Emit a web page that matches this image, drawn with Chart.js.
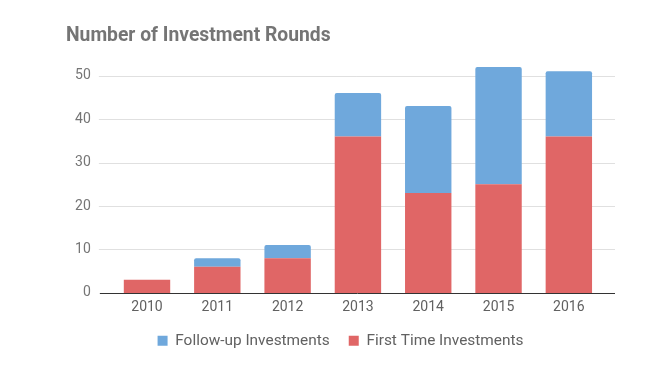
<!DOCTYPE html>
<html>
<head>
<meta charset="utf-8">
<script src="https://cdn.jsdelivr.net/npm/chart.js@4.4.1/dist/chart.umd.min.js"></script>
<style>
  html, body { margin: 0; padding: 0; background: #fff; }
  #wrap { width: 647px; height: 367px; position: relative; }
</style>
</head>
<body>
<div id="wrap"><canvas id="c" width="647" height="367"></canvas></div>
<script>
const categories = ['2010', '2011', '2012', '2013', '2014', '2015', '2016'];
const firstTimeInvestments = [3, 6, 8, 36, 23, 25, 36];
const followUpInvestments = [0, 2, 3, 10, 20, 27, 15];
const yTicks = [0, 10, 20, 30, 40, 50];

const FONT = 'Roboto, "Noto Sans", sans-serif';

// Horizontal gridlines that run a little past the plot area, as in the reference
const gridPlugin = {
  id: 'extGrid',
  beforeDatasetsDraw(chart) {
    const { ctx, chartArea, scales } = chart;
    const y = scales.y;
    const l = chartArea.left - 13, r = chartArea.right + 11;
    ctx.save();
    ctx.lineWidth = 1;
    ctx.strokeStyle = '#e0e0e0';
    yTicks.forEach(v => {
      if (v === 0) return;
      const py = Math.round(y.getPixelForValue(v)) + 0.5;
      ctx.beginPath(); ctx.moveTo(l, py); ctx.lineTo(r, py); ctx.stroke();
    });
    ctx.restore();
  },
  afterDatasetsDraw(chart) {
    const { ctx, chartArea, scales } = chart;
    const y = scales.y;
    const l = chartArea.left - 12, r = chartArea.right + 11;
    const py = Math.round(y.getPixelForValue(0)) + 0.5;
    ctx.save();
    ctx.lineWidth = 1;
    ctx.strokeStyle = '#333333';
    ctx.beginPath(); ctx.moveTo(l, py); ctx.lineTo(r, py); ctx.stroke();
    ctx.restore();
  }
};

new Chart(document.getElementById('c'), {
  type: 'bar',
  data: {
    labels: categories,
    datasets: [
      {
        label: 'First Time Investments',
        data: firstTimeInvestments,
        backgroundColor: '#e06666',
        borderWidth: 0,
        borderSkipped: false,
        borderRadius: 0
      },
      {
        label: 'Follow-up Investments',
        data: followUpInvestments,
        backgroundColor: '#6fa8dc',
        borderWidth: 0,
        borderSkipped: false,
        borderRadius: { topLeft: 2, topRight: 2, bottomLeft: 0, bottomRight: 0 }
      }
    ]
  },
  options: {
    responsive: false,
    animation: false,
    devicePixelRatio: 1,
    layout: { padding: { left: 66, right: 32, top: 0, bottom: 8.5 } },
    datasets: { bar: { barPercentage: 0.66, categoryPercentage: 1 } },
    plugins: {
      title: {
        display: true,
        text: 'Number of Investment Rounds',
        align: 'start',
        color: '#757575',
        font: { family: FONT, size: 19.3, weight: 'bold' },
        padding: { top: 25, bottom: 5.8 }
      },
      legend: {
        position: 'bottom',
        reverse: true,
        labels: {
          color: '#616161',
          font: { family: FONT, size: 15.4 },
          boxWidth: 10,
          boxHeight: 10,
          padding: 19
        }
      },
      tooltip: { enabled: false }
    },
    scales: {
      x: {
        stacked: true,
        grid: { display: false, drawTicks: false },
        border: { display: false },
        ticks: { color: '#616161', font: { family: FONT, size: 14 }, padding: 6 },
        afterFit: (s) => { s.height = 21.2; }
      },
      y: {
        stacked: true,
        min: 0,
        max: 55,
        grid: { display: false, drawTicks: false },
        border: { display: false },
        ticks: { color: '#757575', font: { family: FONT, size: 14 }, padding: 21, stepSize: 10 },
        afterBuildTicks: (s) => { s.ticks = yTicks.map(v => ({ value: v })); },
        afterFit: (s) => { s.width = 45.85; }
      },
      yRight: {
        position: 'right',
        display: true,
        grid: { display: false, drawTicks: false },
        border: { display: false },
        ticks: { display: false },
        afterFit: (s) => { s.width = 11; }
      }
    }
  },
  plugins: [gridPlugin]
});
</script>
</body>
</html>
